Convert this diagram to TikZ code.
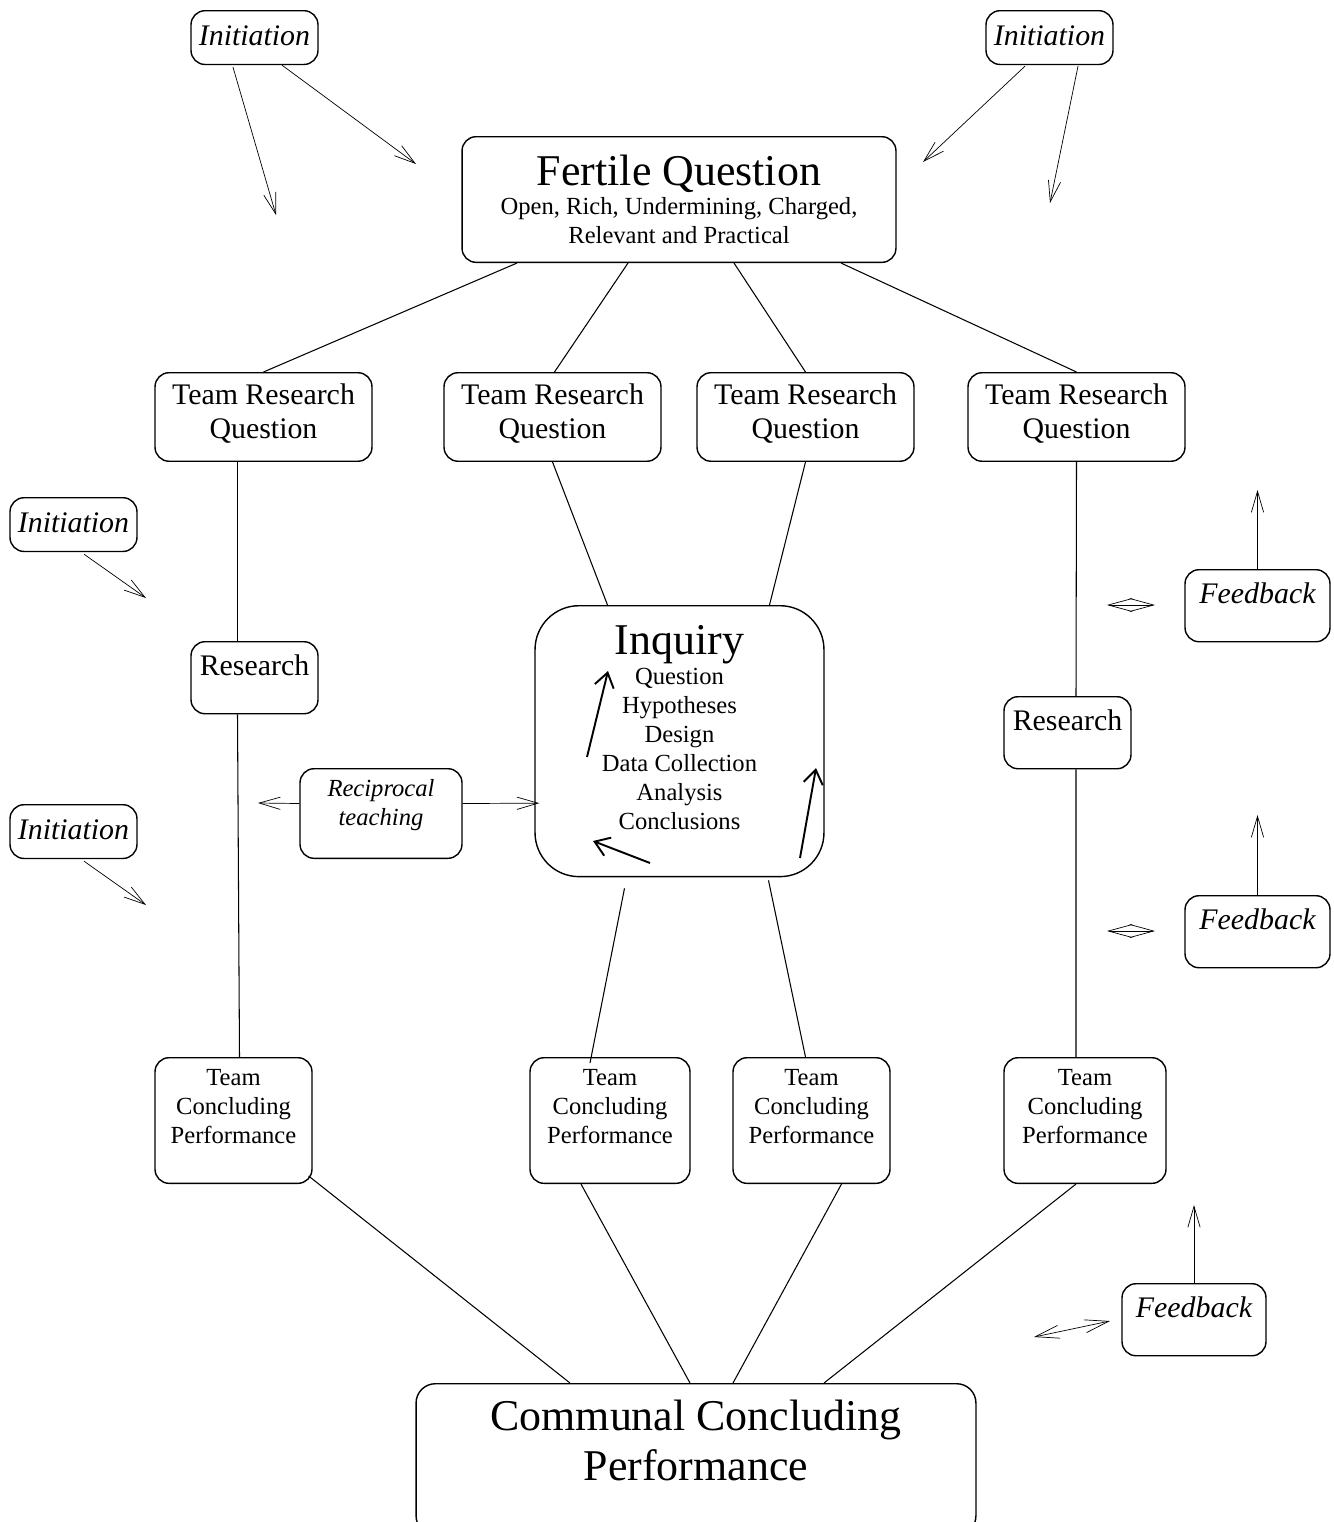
\documentclass[tikz,border=0pt]{standalone}
\usepackage{fontspec}
\setmainfont{Liberation Serif}
\usetikzlibrary{arrows.meta,calc}
\newcommand\fbig{\fontsize{25pt}{28.5pt}\selectfont}
\newcommand\fmed{\fontsize{17pt}{19.3pt}\selectfont}
\newcommand\fsml{\fontsize{14pt}{16.5pt}\selectfont}

\begin{document}
\begin{tikzpicture}[x=0.02cm,y=-0.02cm,
    box/.style={draw,line width=0.8pt,rounded corners=8pt,inner sep=0pt,align=center,anchor=north},
    trq/.style={box,font=\fmed,minimum width=4.34cm,text height=37.4pt,text depth=13pt},
    tall/.style={box,font=\fmed,minimum width=2.54cm,text height=19pt,text depth=22pt},
    init/.style={box,font=\fmed\itshape,minimum width=2.54cm,text height=19.8pt,text depth=10.8pt},
    tcp/.style={box,font=\fsml,text height=48.8pt,text depth=22.7pt},
    wire/.style={line width=0.6pt},
    feed/.style={line width=0.4pt,-{Straight Barb[length=12pt,width=7pt]}},
    twoway/.style={line width=0.4pt,{Straight Barb[length=13.6pt,width=7.4pt]}-{Straight Barb[length=13.6pt,width=7.4pt]}},
    cyclearrow/.style={line width=1.1pt,-{Straight Barb[length=8pt,width=11pt]}}]
\useasboundingbox (0,0) rectangle (1333,1522);

% question boxes
\node[box,font=\fsml,minimum width=8.68cm,text height=60.7pt,text depth=10.8pt] (fq) at (679,136)
  {{\fbig Fertile Question}\\Open, Rich, Undermining, Charged,\\Relevant and Practical};
\node[trq] (trq1) at (263.5,372) {Team Research\\Question};
\node[trq] (trq2) at (552.5,372) {Team Research\\Question};
\node[trq] (trq3) at (805.5,372) {Team Research\\Question};
\node[trq] (trq4) at (1076.5,372) {Team Research\\Question};

% side notes
\node[init] (ini1) at (254.5,10) {Initiation};
\node[init] (ini2) at (1049.5,10) {Initiation};
\node[init] (ini3) at (73.5,497) {Initiation};
\node[init] (ini4) at (73.5,804) {Initiation};
\node[tall,font=\fmed\itshape,minimum width=2.9cm] (fb1) at (1257.5,569) {Feedback};
\node[tall,font=\fmed\itshape,minimum width=2.9cm] (fb2) at (1257.5,895) {Feedback};
\node[tall,font=\fmed\itshape,minimum width=2.88cm] (fb3) at (1194,1283) {Feedback};
\node[box,font=\fsml\itshape,minimum width=3.24cm,text height=32.3pt,text depth=18.7pt] (rt) at (381,768)
  {Reciprocal\\teaching};

% middle
\node[tall] (res1) at (254.5,641) {Research};
\node[tall] (res2) at (1067.5,696) {Research};
\node[box,font=\fsml,rounded corners=25pt,minimum width=5.78cm,text height=127.6pt,text depth=26.6pt] (inq) at (679.5,605)
  {{\fbig Inquiry}\\[1pt]Question\\Hypotheses\\Design\\Data Collection\\Analysis\\Conclusions};

% conclusions
\node[tcp,minimum width=3.14cm] (tcp1) at (233.5,1057) {Team\\Concluding\\Performance};
\node[tcp,minimum width=3.2cm] (tcp2) at (610,1057) {Team\\Concluding\\Performance};
\node[tcp,minimum width=3.14cm] (tcp3) at (811.5,1057) {Team\\Concluding\\Performance};
\node[tcp,minimum width=3.24cm] (tcp4) at (1085,1057) {Team\\Concluding\\Performance};
\node[box,font=\fbig,rounded corners=11pt,minimum width=11.2cm,text height=55pt,text depth=31.2pt] (ccp) at (696,1383)
  {Communal Concluding\\Performance};

% free ends
\coordinate (e1) at (276,215);
\coordinate (e2) at (416,164);
\coordinate (e3) at (923,162);
\coordinate (e4) at (1050,203);
\coordinate (e5) at (146,598);
\coordinate (e6) at (146,905);
\coordinate (u1) at (1257.5,490);
\coordinate (u2) at (1257.5,815);
\coordinate (u3) at (1194,1205);
\coordinate (d1a) at (1107,605);
\coordinate (d1b) at (1155,605);
\coordinate (d2a) at (1107,931);
\coordinate (d2b) at (1155,931);
\coordinate (d3a) at (1034,1337);
\coordinate (d3b) at (1110,1321);
\coordinate (rl) at (258,803);
\coordinate (a1s) at (587,757);
\coordinate (a1e) at (608,671);
\coordinate (a2s) at (650,863);
\coordinate (a2e) at (593,841);
\coordinate (a3s) at (800,858);
\coordinate (a3e) at (816,768);

% links
\draw[wire] ($(fq.south)+(-162,0)$) -- (trq1.north);
\draw[wire] ($(fq.south)+(-51,0)$) -- ($(trq2.north)+(2,0)$);
\draw[wire] ($(fq.south)+(55,0)$) -- (trq3.north);
\draw[wire] ($(fq.south)+(162,0)$) -- (trq4.north);
\draw[wire] ($(trq1.south)+(-26,0)$) -- ($(res1.north)+(-17,0)$);
\draw[wire] ($(res1.south)+(-17,0)$) -- ($(tcp1.north)+(6,0)$);
\draw[wire] ($(trq2.south)+(0,0)$) -- ($(inq.north)+(-72,0)$);
\draw[wire] ($(trq3.south)+(0,0)$) -- ($(inq.north)+(90,0)$);
\draw[wire] ($(inq.south)+(-55,11)$) -- ($(tcp2.north)+(-20,6)$);
\draw[wire] ($(inq.south)+(89,3)$) -- ($(tcp3.north)+(-6,0)$);
\draw[wire] ($(trq4.south)+(0,0)$) -- ($(res2.north)+(8.5,0)$);
\draw[wire] ($(res2.south)+(8.5,0)$) -- ($(tcp4.north)+(-9,0)$);
\draw[wire] ($(tcp1.south east)+(-4,-8)$) -- ($(ccp.north)+(-126,0)$);
\draw[wire] ($(tcp2.south)+(-29,0)$) -- ($(ccp.north)+(-6,0)$);
\draw[wire] ($(tcp3.south)+(30,0)$) -- ($(ccp.north)+(37,0)$);
\draw[wire] ($(tcp4.south)+(-9,0)$) -- ($(ccp.north)+(128,0)$);

% note arrows
\draw[feed] ($(ini1.south)+(-21.5,2)$) -- (e1);
\draw[feed] ($(ini1.south)+(27.5,0)$) -- (e2);
\draw[feed] ($(ini2.south)+(-24.5,1)$) -- (e3);
\draw[feed] ($(ini2.south)+(28.5,1)$) -- (e4);
\draw[feed] ($(ini3.south)+(10.5,2)$) -- (e5);
\draw[feed] ($(ini4.south)+(10.5,2)$) -- (e6);
\draw[feed] (fb1.north) -- (u1);
\draw[feed] (fb2.north) -- (u2);
\draw[feed] (fb3.north) -- (u3);
\draw[twoway] (d1a) -- (d1b);
\draw[twoway] (d2a) -- (d2b);
\draw[twoway] (d3a) -- (d3b);
\draw[feed] ($(rt.west)+(0,-10)$) -- (rl);
\draw[feed] ($(rt.east)+(0,-10)$) -- ($(inq.west)+(5,62)$);

% inquiry cycle
\draw[cyclearrow] (a1s) -- (a1e);
\draw[cyclearrow] (a2s) -- (a2e);
\draw[cyclearrow] (a3s) -- (a3e);
\end{tikzpicture}
\end{document}
